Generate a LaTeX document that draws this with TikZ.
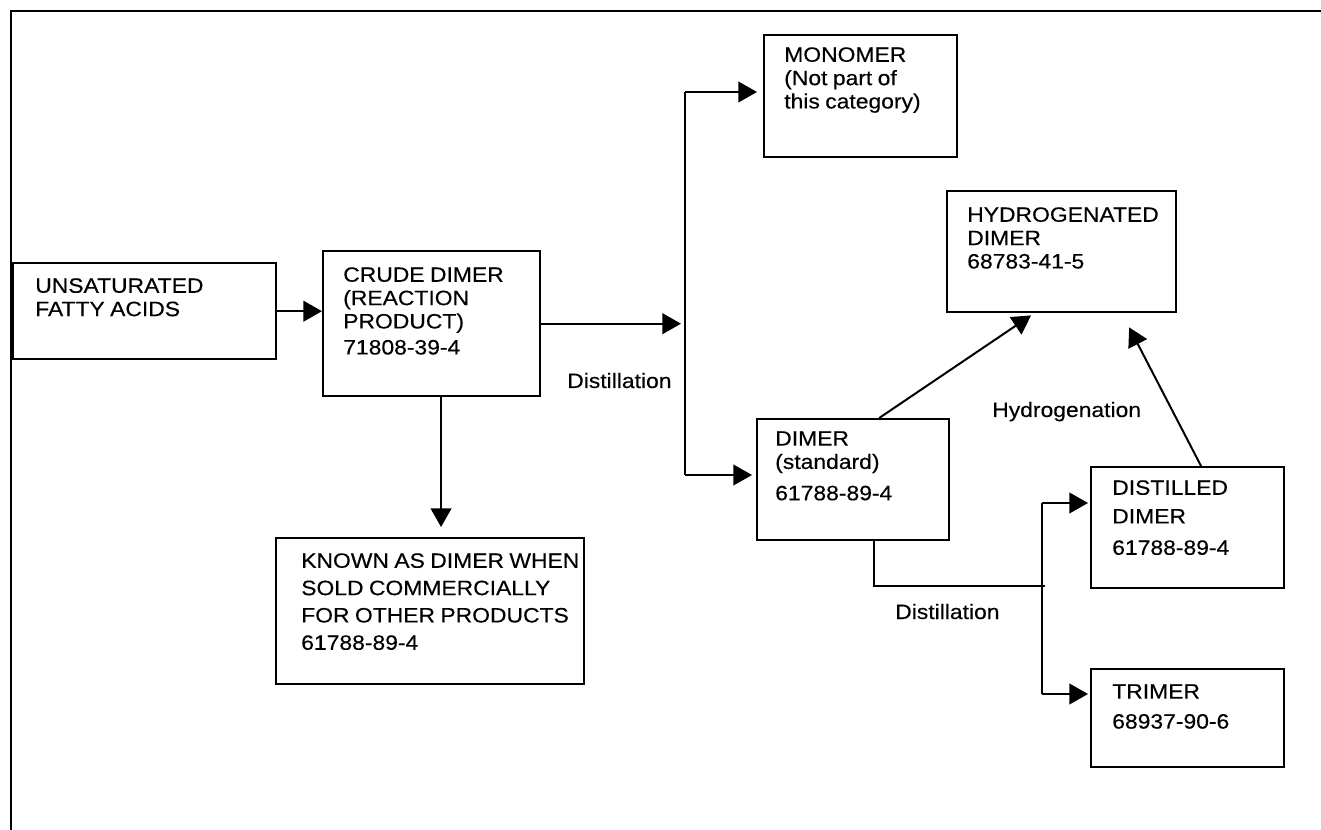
\documentclass[tikz,border=0pt]{standalone}
\usepackage{fontspec}
\setmainfont[FakeStretch=1.10,WordSpace=0.85,FakeBold=0.3]{Liberation Sans}
\usetikzlibrary{arrows.meta}

\begin{document}
\begin{tikzpicture}[x=0.75pt,y=-0.75pt]
\tikzset{
  frame/.style={line width=1.9pt},
  box/.style 2 args={draw, line width=1.8pt, anchor=north west, inner sep=0pt,
    minimum width=#1*0.75pt, minimum height=#2*0.75pt},
  txt/.style={anchor=north west, inner sep=0pt, align=left,
    font=\fontsize{15.6}{17.5}\selectfont},
  lbl/.style={anchor=base west, inner sep=0pt, font=\fontsize{15.6}{17.5}\selectfont},
  conn/.style={line width=1.5pt},
  arr/.style={conn, -{Triangle[length=14pt,width=15.5pt]}}
}
\useasboundingbox (0,0) rectangle (1321,830);
\draw[frame] (11,830) -- (11,11) -- (1321,11);

\node[box={263}{96}] (unsat) at (12,262) {};
\node[box={217}{145}] (crude) at (322,250) {};
\node[box={193}{122}] (mono) at (763,34) {};
\node[box={229}{121}] (hydro) at (946,190) {};
\node[box={192}{121}] (dimer) at (756,418) {};
\node[box={308}{146}] (known) at (275,537) {};
\node[box={193}{121}] (dist) at (1090,466) {};
\node[box={193}{98}] (trimer) at (1090,668) {};

\node[txt] (unsat-t) at ([shift={(23,16)}]unsat.north west) {UNSATURATED\\FATTY ACIDS};
\node[txt] (crude-t) at ([shift={(21,17)}]crude.north west)
  {CRUDE DIMER\\(REACTION\\PRODUCT)\\[2pt]71808-39-4};
\node[txt] (mono-t) at ([shift={(21,13)}]mono.north west)
  {MONOMER\\(Not part of\\this category)};
\node[txt] (hydro-t) at ([shift={(21,17)}]hydro.north west)
  {HYDROGENATED\\DIMER\\68783-41-5};
\node[txt] (dimer-t) at ([shift={(19,13)}]dimer.north west)
  {DIMER\\(standard)\\[6pt]61788-89-4};
\node[txt] (known-t) at ([shift={(26,16)}]known.north west)
  {KNOWN AS DIMER WHEN\\[3pt]SOLD COMMERCIALLY\\[3pt]FOR OTHER PRODUCTS\\[3pt]61788-89-4};
\node[txt] (dist-t) at ([shift={(22,14)}]dist.north west)
  {DISTILLED\\[4pt]DIMER\\[6pt]61788-89-4};
\node[txt] (trimer-t) at ([shift={(22,16)}]trimer.north west)
  {TRIMER\\[5pt]68937-90-6};

\node[lbl] (dist1) at (567,388) {Distillation};
\node[lbl] (hyd) at (992,417) {Hydrogenation};
\node[lbl] (dist2) at (895,619) {Distillation};

\coordinate (split) at (685,322);
\coordinate (trunktop) at (685,92);
\coordinate (trunkbot) at (685,475);
\coordinate (joint) at (1045,586);
\coordinate (forktop) at (1042,503);
\coordinate (forkbot) at (1042,694);

\draw[arr] (unsat.east) -- (unsat.east -| crude.west);
\draw[arr, shorten >=3pt] (crude.east) -- (crude.east -| split);
\draw[conn] (trunktop) -- (trunkbot);
\draw[arr, shorten >=4.5pt] (trunktop) -- (trunktop -| mono.west);
\draw[arr, shorten >=3pt] (trunkbot) -- (trunkbot -| dimer.west);
\draw[arr, shorten >=7.5pt] ([xshift=7pt]crude.south) -- ([xshift=7pt]crude.south |- known.north);
\draw[arr] ([xshift=19.5pt]dimer.north) -- ([xshift=-23pt,yshift=-1.5pt]hydro.south);
\draw[arr] ([xshift=10pt]dist.north) -- ([xshift=50.6pt,yshift=-10.5pt]hydro.south);
\draw[conn] ([xshift=15.75pt]dimer.south) |- (joint);
\draw[conn] (forktop) -- (forkbot);
\draw[arr, shorten >=1.5pt] (forktop) -- (forktop -| dist.west);
\draw[arr, shorten >=1.5pt] (forkbot) -- (forkbot -| trimer.west);
\end{tikzpicture}
\end{document}
